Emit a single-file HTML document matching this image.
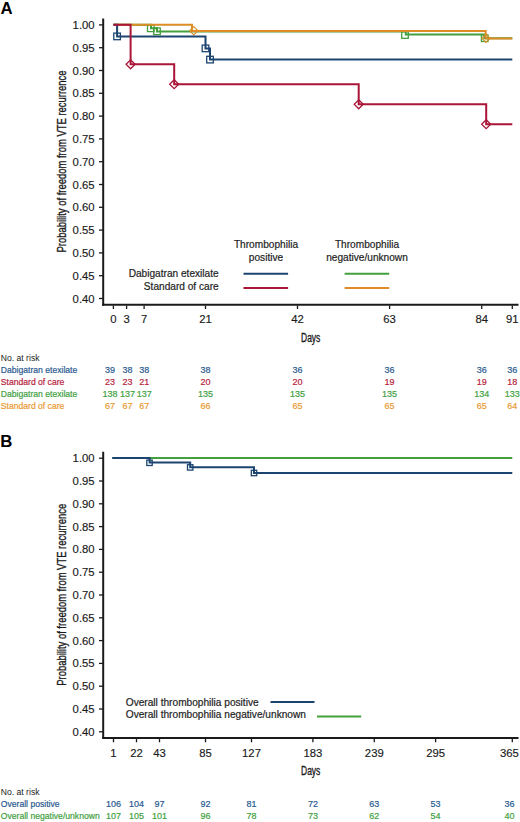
<!DOCTYPE html><html><head><meta charset="utf-8"><style>
html,body{margin:0;padding:0;background:#fff;width:520px;height:822px;overflow:hidden}
svg{display:block;font-family:"Liberation Sans",sans-serif}
.tk{font-size:11.3px;fill:#1a1a1a;stroke:#1a1a1a;stroke-width:0.15px}
.cond{font-size:12.5px;fill:#1a1a1a;stroke:#1a1a1a;stroke-width:0.35px}
.lg{font-size:10.15px;fill:#1e1e1e;stroke:#1e1e1e;stroke-width:0.2px}
.tb{font-size:8.6px;stroke-width:0.2px}
.tn{font-size:9px;stroke-width:0.2px}
.pl{font-size:16.8px;font-weight:bold;fill:#000}
</style></head><body>
<svg width="520" height="822" viewBox="0 0 520 822">
<text x="0.6" y="13.6" class="pl">A</text>
<text x="0.2" y="446.6" class="pl">B</text>
<line x1="103.2" y1="18.5" x2="103.2" y2="305.8" stroke="#1a1a1a" stroke-width="2"/>
<line x1="102.2" y1="304.8" x2="518.5" y2="304.8" stroke="#1a1a1a" stroke-width="2"/>
<line x1="99" y1="24.9" x2="103" y2="24.9" stroke="#1a1a1a" stroke-width="1.3"/>
<text x="94.6" y="28.9" text-anchor="end" class="tk">1.00</text>
<line x1="99" y1="47.7" x2="103" y2="47.7" stroke="#1a1a1a" stroke-width="1.3"/>
<text x="94.6" y="51.7" text-anchor="end" class="tk">0.95</text>
<line x1="99" y1="70.5" x2="103" y2="70.5" stroke="#1a1a1a" stroke-width="1.3"/>
<text x="94.6" y="74.5" text-anchor="end" class="tk">0.90</text>
<line x1="99" y1="93.3" x2="103" y2="93.3" stroke="#1a1a1a" stroke-width="1.3"/>
<text x="94.6" y="97.3" text-anchor="end" class="tk">0.85</text>
<line x1="99" y1="116.1" x2="103" y2="116.1" stroke="#1a1a1a" stroke-width="1.3"/>
<text x="94.6" y="120.1" text-anchor="end" class="tk">0.80</text>
<line x1="99" y1="138.9" x2="103" y2="138.9" stroke="#1a1a1a" stroke-width="1.3"/>
<text x="94.6" y="142.9" text-anchor="end" class="tk">0.75</text>
<line x1="99" y1="161.7" x2="103" y2="161.7" stroke="#1a1a1a" stroke-width="1.3"/>
<text x="94.6" y="165.7" text-anchor="end" class="tk">0.70</text>
<line x1="99" y1="184.5" x2="103" y2="184.5" stroke="#1a1a1a" stroke-width="1.3"/>
<text x="94.6" y="188.5" text-anchor="end" class="tk">0.65</text>
<line x1="99" y1="207.3" x2="103" y2="207.3" stroke="#1a1a1a" stroke-width="1.3"/>
<text x="94.6" y="211.3" text-anchor="end" class="tk">0.60</text>
<line x1="99" y1="230.1" x2="103" y2="230.1" stroke="#1a1a1a" stroke-width="1.3"/>
<text x="94.6" y="234.1" text-anchor="end" class="tk">0.55</text>
<line x1="99" y1="252.9" x2="103" y2="252.9" stroke="#1a1a1a" stroke-width="1.3"/>
<text x="94.6" y="256.9" text-anchor="end" class="tk">0.50</text>
<line x1="99" y1="275.7" x2="103" y2="275.7" stroke="#1a1a1a" stroke-width="1.3"/>
<text x="94.6" y="279.7" text-anchor="end" class="tk">0.45</text>
<line x1="99" y1="298.5" x2="103" y2="298.5" stroke="#1a1a1a" stroke-width="1.3"/>
<text x="94.6" y="302.5" text-anchor="end" class="tk">0.40</text>
<line x1="113.4" y1="305.5" x2="113.4" y2="309.0" stroke="#1a1a1a" stroke-width="1.3"/>
<text x="113.4" y="323.4" text-anchor="middle" class="tk">0</text>
<line x1="126.6" y1="305.5" x2="126.6" y2="309.0" stroke="#1a1a1a" stroke-width="1.3"/>
<text x="126.6" y="323.4" text-anchor="middle" class="tk">3</text>
<line x1="144.1" y1="305.5" x2="144.1" y2="309.0" stroke="#1a1a1a" stroke-width="1.3"/>
<text x="144.1" y="323.4" text-anchor="middle" class="tk">7</text>
<line x1="205.5" y1="305.5" x2="205.5" y2="309.0" stroke="#1a1a1a" stroke-width="1.3"/>
<text x="205.5" y="323.4" text-anchor="middle" class="tk">21</text>
<line x1="297.5" y1="305.5" x2="297.5" y2="309.0" stroke="#1a1a1a" stroke-width="1.3"/>
<text x="297.5" y="323.4" text-anchor="middle" class="tk">42</text>
<line x1="389.6" y1="305.5" x2="389.6" y2="309.0" stroke="#1a1a1a" stroke-width="1.3"/>
<text x="389.6" y="323.4" text-anchor="middle" class="tk">63</text>
<line x1="481.7" y1="305.5" x2="481.7" y2="309.0" stroke="#1a1a1a" stroke-width="1.3"/>
<text x="481.7" y="323.4" text-anchor="middle" class="tk">84</text>
<line x1="512.3" y1="305.5" x2="512.3" y2="309.0" stroke="#1a1a1a" stroke-width="1.3"/>
<text x="512.3" y="323.4" text-anchor="middle" class="tk">91</text>
<text x="310.7" y="341.7" text-anchor="middle" class="cond" textLength="19.3" lengthAdjust="spacingAndGlyphs">Days</text>
<text transform="translate(66.2,161.5) rotate(-90)" text-anchor="middle" class="cond" textLength="182" lengthAdjust="spacingAndGlyphs">Probability of freedom from VTE recurrence</text>
<path d="M113.5,24.8 H151.0 V28.2 H157.0 V31.4 H405.8 V34.6 H484.3 V38.2 H512.3" fill="none" stroke="#44a03f" stroke-width="2"/>
<rect x="147.5" y="25.0" width="6.6" height="6.6" fill="none" stroke="#44a03f" stroke-width="1.3"/>
<rect x="153.7" y="28.0" width="6.6" height="6.6" fill="none" stroke="#44a03f" stroke-width="1.3"/>
<rect x="401.7" y="31.7" width="6.6" height="6.6" fill="none" stroke="#44a03f" stroke-width="1.3"/>
<rect x="481.4" y="34.9" width="6.6" height="6.6" fill="none" stroke="#44a03f" stroke-width="1.3"/>
<path d="M113.5,24.8 H192.0 V31.0 H485.7 V38.4 H512.3" fill="none" stroke="#dd8c26" stroke-width="2"/>
<path d="M193.8,26.6 L198.0,30.8 L193.8,35.0 L189.6,30.8 Z" fill="none" stroke="#dd8c26" stroke-width="1.1"/>
<path d="M486.0,34.1 L490.2,38.3 L486.0,42.5 L481.8,38.3 Z" fill="none" stroke="#dd8c26" stroke-width="1.1"/>
<path d="M113.5,24.8 H117.1 V36.4 H205.5 V48.4 H210.0 V59.6 H512.3" fill="none" stroke="#1c4470" stroke-width="2"/>
<rect x="113.8" y="33.1" width="6.6" height="6.6" fill="none" stroke="#1c4470" stroke-width="1.3"/>
<rect x="202.2" y="45.1" width="6.6" height="6.6" fill="none" stroke="#1c4470" stroke-width="1.3"/>
<rect x="206.7" y="56.3" width="6.6" height="6.6" fill="none" stroke="#1c4470" stroke-width="1.3"/>
<path d="M113.5,24.8 H130.6 V64.3 H174.2 V84.2 H358.7 V104.3 H486.2 V124.2 H512.3" fill="none" stroke="#aa1538" stroke-width="2"/>
<path d="M130.6,59.8 L135.1,64.3 L130.6,68.8 L126.1,64.3 Z" fill="none" stroke="#aa1538" stroke-width="1.3"/>
<path d="M174.2,79.7 L178.7,84.2 L174.2,88.7 L169.7,84.2 Z" fill="none" stroke="#aa1538" stroke-width="1.3"/>
<path d="M358.7,99.8 L363.2,104.3 L358.7,108.8 L354.2,104.3 Z" fill="none" stroke="#aa1538" stroke-width="1.3"/>
<path d="M486.2,119.7 L490.7,124.2 L486.2,128.7 L481.7,124.2 Z" fill="none" stroke="#aa1538" stroke-width="1.3"/>
<text x="266" y="248.1" text-anchor="middle" class="lg">Thrombophilia</text>
<text x="266" y="261.0" text-anchor="middle" class="lg">positive</text>
<text x="367" y="248.1" text-anchor="middle" class="lg">Thrombophilia</text>
<text x="367" y="261.0" text-anchor="middle" class="lg">negative/unknown</text>
<text x="218.7" y="276.7" text-anchor="end" class="lg">Dabigatran etexilate</text>
<text x="218.7" y="290.0" text-anchor="end" class="lg">Standard of care</text>
<line x1="243.5" y1="273.8" x2="288.1" y2="273.8" stroke="#1c4470" stroke-width="2"/>
<line x1="243.5" y1="288.1" x2="288.1" y2="288.1" stroke="#aa1538" stroke-width="2"/>
<line x1="344.6" y1="273.8" x2="389.2" y2="273.8" stroke="#44a03f" stroke-width="2"/>
<line x1="344.6" y1="288.1" x2="389.2" y2="288.1" stroke="#dd8c26" stroke-width="2"/>
<text x="0.8" y="361.3" class="tb" fill="#1a1a1a">No. at risk</text>
<text x="0.8" y="373.0" class="tb" fill="#2a5a90" stroke="#2a5a90">Dabigatran etexilate</text>
<text x="110.1" y="373.0" text-anchor="middle" class="tn" fill="#2a5a90" stroke="#2a5a90">39</text>
<text x="127.4" y="373.0" text-anchor="middle" class="tn" fill="#2a5a90" stroke="#2a5a90">38</text>
<text x="144.2" y="373.0" text-anchor="middle" class="tn" fill="#2a5a90" stroke="#2a5a90">38</text>
<text x="205.5" y="373.0" text-anchor="middle" class="tn" fill="#2a5a90" stroke="#2a5a90">38</text>
<text x="297.5" y="373.0" text-anchor="middle" class="tn" fill="#2a5a90" stroke="#2a5a90">36</text>
<text x="389.6" y="373.0" text-anchor="middle" class="tn" fill="#2a5a90" stroke="#2a5a90">36</text>
<text x="481.7" y="373.0" text-anchor="middle" class="tn" fill="#2a5a90" stroke="#2a5a90">36</text>
<text x="512.3" y="373.0" text-anchor="middle" class="tn" fill="#2a5a90" stroke="#2a5a90">36</text>
<text x="0.8" y="385.2" class="tb" fill="#b71f40" stroke="#b71f40">Standard of care</text>
<text x="110.1" y="385.2" text-anchor="middle" class="tn" fill="#b71f40" stroke="#b71f40">23</text>
<text x="127.4" y="385.2" text-anchor="middle" class="tn" fill="#b71f40" stroke="#b71f40">23</text>
<text x="144.2" y="385.2" text-anchor="middle" class="tn" fill="#b71f40" stroke="#b71f40">21</text>
<text x="205.5" y="385.2" text-anchor="middle" class="tn" fill="#b71f40" stroke="#b71f40">20</text>
<text x="297.5" y="385.2" text-anchor="middle" class="tn" fill="#b71f40" stroke="#b71f40">20</text>
<text x="389.6" y="385.2" text-anchor="middle" class="tn" fill="#b71f40" stroke="#b71f40">19</text>
<text x="481.7" y="385.2" text-anchor="middle" class="tn" fill="#b71f40" stroke="#b71f40">19</text>
<text x="512.3" y="385.2" text-anchor="middle" class="tn" fill="#b71f40" stroke="#b71f40">18</text>
<text x="0.8" y="397.2" class="tb" fill="#3f9f3f" stroke="#3f9f3f">Dabigatran etexilate</text>
<text x="110.1" y="397.2" text-anchor="middle" class="tn" fill="#3f9f3f" stroke="#3f9f3f">138</text>
<text x="127.4" y="397.2" text-anchor="middle" class="tn" fill="#3f9f3f" stroke="#3f9f3f">137</text>
<text x="144.2" y="397.2" text-anchor="middle" class="tn" fill="#3f9f3f" stroke="#3f9f3f">137</text>
<text x="205.5" y="397.2" text-anchor="middle" class="tn" fill="#3f9f3f" stroke="#3f9f3f">135</text>
<text x="297.5" y="397.2" text-anchor="middle" class="tn" fill="#3f9f3f" stroke="#3f9f3f">135</text>
<text x="389.6" y="397.2" text-anchor="middle" class="tn" fill="#3f9f3f" stroke="#3f9f3f">135</text>
<text x="481.7" y="397.2" text-anchor="middle" class="tn" fill="#3f9f3f" stroke="#3f9f3f">134</text>
<text x="512.3" y="397.2" text-anchor="middle" class="tn" fill="#3f9f3f" stroke="#3f9f3f">133</text>
<text x="0.8" y="409.1" class="tb" fill="#e99a32" stroke="#e99a32">Standard of care</text>
<text x="110.1" y="409.1" text-anchor="middle" class="tn" fill="#e99a32" stroke="#e99a32">67</text>
<text x="127.4" y="409.1" text-anchor="middle" class="tn" fill="#e99a32" stroke="#e99a32">67</text>
<text x="144.2" y="409.1" text-anchor="middle" class="tn" fill="#e99a32" stroke="#e99a32">67</text>
<text x="205.5" y="409.1" text-anchor="middle" class="tn" fill="#e99a32" stroke="#e99a32">66</text>
<text x="297.5" y="409.1" text-anchor="middle" class="tn" fill="#e99a32" stroke="#e99a32">65</text>
<text x="389.6" y="409.1" text-anchor="middle" class="tn" fill="#e99a32" stroke="#e99a32">65</text>
<text x="481.7" y="409.1" text-anchor="middle" class="tn" fill="#e99a32" stroke="#e99a32">65</text>
<text x="512.3" y="409.1" text-anchor="middle" class="tn" fill="#e99a32" stroke="#e99a32">64</text>
<line x1="103.2" y1="451.8" x2="103.2" y2="739.1" stroke="#1a1a1a" stroke-width="2"/>
<line x1="102.2" y1="738.1" x2="518.5" y2="738.1" stroke="#1a1a1a" stroke-width="2"/>
<line x1="99" y1="458.2" x2="103" y2="458.2" stroke="#1a1a1a" stroke-width="1.3"/>
<text x="94.6" y="462.2" text-anchor="end" class="tk">1.00</text>
<line x1="99" y1="481.0" x2="103" y2="481.0" stroke="#1a1a1a" stroke-width="1.3"/>
<text x="94.6" y="485.0" text-anchor="end" class="tk">0.95</text>
<line x1="99" y1="503.8" x2="103" y2="503.8" stroke="#1a1a1a" stroke-width="1.3"/>
<text x="94.6" y="507.8" text-anchor="end" class="tk">0.90</text>
<line x1="99" y1="526.6" x2="103" y2="526.6" stroke="#1a1a1a" stroke-width="1.3"/>
<text x="94.6" y="530.6" text-anchor="end" class="tk">0.85</text>
<line x1="99" y1="549.4" x2="103" y2="549.4" stroke="#1a1a1a" stroke-width="1.3"/>
<text x="94.6" y="553.4" text-anchor="end" class="tk">0.80</text>
<line x1="99" y1="572.2" x2="103" y2="572.2" stroke="#1a1a1a" stroke-width="1.3"/>
<text x="94.6" y="576.2" text-anchor="end" class="tk">0.75</text>
<line x1="99" y1="595.0" x2="103" y2="595.0" stroke="#1a1a1a" stroke-width="1.3"/>
<text x="94.6" y="599.0" text-anchor="end" class="tk">0.70</text>
<line x1="99" y1="617.8" x2="103" y2="617.8" stroke="#1a1a1a" stroke-width="1.3"/>
<text x="94.6" y="621.8" text-anchor="end" class="tk">0.65</text>
<line x1="99" y1="640.6" x2="103" y2="640.6" stroke="#1a1a1a" stroke-width="1.3"/>
<text x="94.6" y="644.6" text-anchor="end" class="tk">0.60</text>
<line x1="99" y1="663.4" x2="103" y2="663.4" stroke="#1a1a1a" stroke-width="1.3"/>
<text x="94.6" y="667.4" text-anchor="end" class="tk">0.55</text>
<line x1="99" y1="686.2" x2="103" y2="686.2" stroke="#1a1a1a" stroke-width="1.3"/>
<text x="94.6" y="690.2" text-anchor="end" class="tk">0.50</text>
<line x1="99" y1="709.0" x2="103" y2="709.0" stroke="#1a1a1a" stroke-width="1.3"/>
<text x="94.6" y="713.0" text-anchor="end" class="tk">0.45</text>
<line x1="99" y1="731.8" x2="103" y2="731.8" stroke="#1a1a1a" stroke-width="1.3"/>
<text x="94.6" y="735.8" text-anchor="end" class="tk">0.40</text>
<line x1="113.5" y1="738.8" x2="113.5" y2="742.3" stroke="#1a1a1a" stroke-width="1.3"/>
<text x="113.5" y="756.7" text-anchor="middle" class="tk">1</text>
<line x1="136.5" y1="738.8" x2="136.5" y2="742.3" stroke="#1a1a1a" stroke-width="1.3"/>
<text x="136.5" y="756.7" text-anchor="middle" class="tk">22</text>
<line x1="159.5" y1="738.8" x2="159.5" y2="742.3" stroke="#1a1a1a" stroke-width="1.3"/>
<text x="159.5" y="756.7" text-anchor="middle" class="tk">43</text>
<line x1="205.5" y1="738.8" x2="205.5" y2="742.3" stroke="#1a1a1a" stroke-width="1.3"/>
<text x="205.5" y="756.7" text-anchor="middle" class="tk">85</text>
<line x1="251.5" y1="738.8" x2="251.5" y2="742.3" stroke="#1a1a1a" stroke-width="1.3"/>
<text x="251.5" y="756.7" text-anchor="middle" class="tk">127</text>
<line x1="312.9" y1="738.8" x2="312.9" y2="742.3" stroke="#1a1a1a" stroke-width="1.3"/>
<text x="312.9" y="756.7" text-anchor="middle" class="tk">183</text>
<line x1="374.3" y1="738.8" x2="374.3" y2="742.3" stroke="#1a1a1a" stroke-width="1.3"/>
<text x="374.3" y="756.7" text-anchor="middle" class="tk">239</text>
<line x1="435.6" y1="738.8" x2="435.6" y2="742.3" stroke="#1a1a1a" stroke-width="1.3"/>
<text x="435.6" y="756.7" text-anchor="middle" class="tk">295</text>
<line x1="512.3" y1="738.8" x2="512.3" y2="742.3" stroke="#1a1a1a" stroke-width="1.3"/>
<text x="509.4" y="756.7" text-anchor="middle" class="tk">365</text>
<text x="310.7" y="775.0" text-anchor="middle" class="cond" textLength="19.3" lengthAdjust="spacingAndGlyphs">Days</text>
<text transform="translate(66.2,594.8) rotate(-90)" text-anchor="middle" class="cond" textLength="182" lengthAdjust="spacingAndGlyphs">Probability of freedom from VTE recurrence</text>
<path d="M112.3,458.1 H512.3" fill="none" stroke="#44a03f" stroke-width="2"/>
<path d="M112.3,458.1 H149.6 V462.6 H190.2 V467.2 H254 V472.9 H512.3" fill="none" stroke="#1c4470" stroke-width="2"/>
<rect x="146.8" y="460.1" width="5.4" height="5.4" fill="none" stroke="#1c4470" stroke-width="1.3"/>
<rect x="187.5" y="464.7" width="5.4" height="5.4" fill="none" stroke="#1c4470" stroke-width="1.3"/>
<rect x="251.3" y="470.3" width="5.4" height="5.4" fill="none" stroke="#1c4470" stroke-width="1.3"/>
<text x="125.8" y="705.6" class="lg">Overall thrombophilia positive</text>
<text x="125.8" y="718.3" class="lg">Overall thrombophilia negative/unknown</text>
<line x1="270.5" y1="702" x2="314.5" y2="702" stroke="#1c4470" stroke-width="2"/>
<line x1="317" y1="716.5" x2="361.2" y2="716.5" stroke="#44a03f" stroke-width="2"/>
<text x="0.8" y="794.5" class="tb" fill="#1a1a1a">No. at risk</text>
<text x="0.8" y="806.6" class="tb" fill="#2a5a90" stroke="#2a5a90">Overall positive</text>
<text x="113.5" y="806.6" text-anchor="middle" class="tn" fill="#2a5a90" stroke="#2a5a90">106</text>
<text x="136.5" y="806.6" text-anchor="middle" class="tn" fill="#2a5a90" stroke="#2a5a90">104</text>
<text x="159.5" y="806.6" text-anchor="middle" class="tn" fill="#2a5a90" stroke="#2a5a90">97</text>
<text x="205.5" y="806.6" text-anchor="middle" class="tn" fill="#2a5a90" stroke="#2a5a90">92</text>
<text x="251.5" y="806.6" text-anchor="middle" class="tn" fill="#2a5a90" stroke="#2a5a90">81</text>
<text x="312.9" y="806.6" text-anchor="middle" class="tn" fill="#2a5a90" stroke="#2a5a90">72</text>
<text x="374.3" y="806.6" text-anchor="middle" class="tn" fill="#2a5a90" stroke="#2a5a90">63</text>
<text x="435.6" y="806.6" text-anchor="middle" class="tn" fill="#2a5a90" stroke="#2a5a90">53</text>
<text x="509.4" y="806.6" text-anchor="middle" class="tn" fill="#2a5a90" stroke="#2a5a90">36</text>
<text x="0.8" y="819.1" class="tb" fill="#3f9f3f" stroke="#3f9f3f">Overall negative/unknown</text>
<text x="113.5" y="819.1" text-anchor="middle" class="tn" fill="#3f9f3f" stroke="#3f9f3f">107</text>
<text x="136.5" y="819.1" text-anchor="middle" class="tn" fill="#3f9f3f" stroke="#3f9f3f">105</text>
<text x="159.5" y="819.1" text-anchor="middle" class="tn" fill="#3f9f3f" stroke="#3f9f3f">101</text>
<text x="205.5" y="819.1" text-anchor="middle" class="tn" fill="#3f9f3f" stroke="#3f9f3f">96</text>
<text x="251.5" y="819.1" text-anchor="middle" class="tn" fill="#3f9f3f" stroke="#3f9f3f">78</text>
<text x="312.9" y="819.1" text-anchor="middle" class="tn" fill="#3f9f3f" stroke="#3f9f3f">73</text>
<text x="374.3" y="819.1" text-anchor="middle" class="tn" fill="#3f9f3f" stroke="#3f9f3f">62</text>
<text x="435.6" y="819.1" text-anchor="middle" class="tn" fill="#3f9f3f" stroke="#3f9f3f">54</text>
<text x="509.4" y="819.1" text-anchor="middle" class="tn" fill="#3f9f3f" stroke="#3f9f3f">40</text>
</svg></body></html>
